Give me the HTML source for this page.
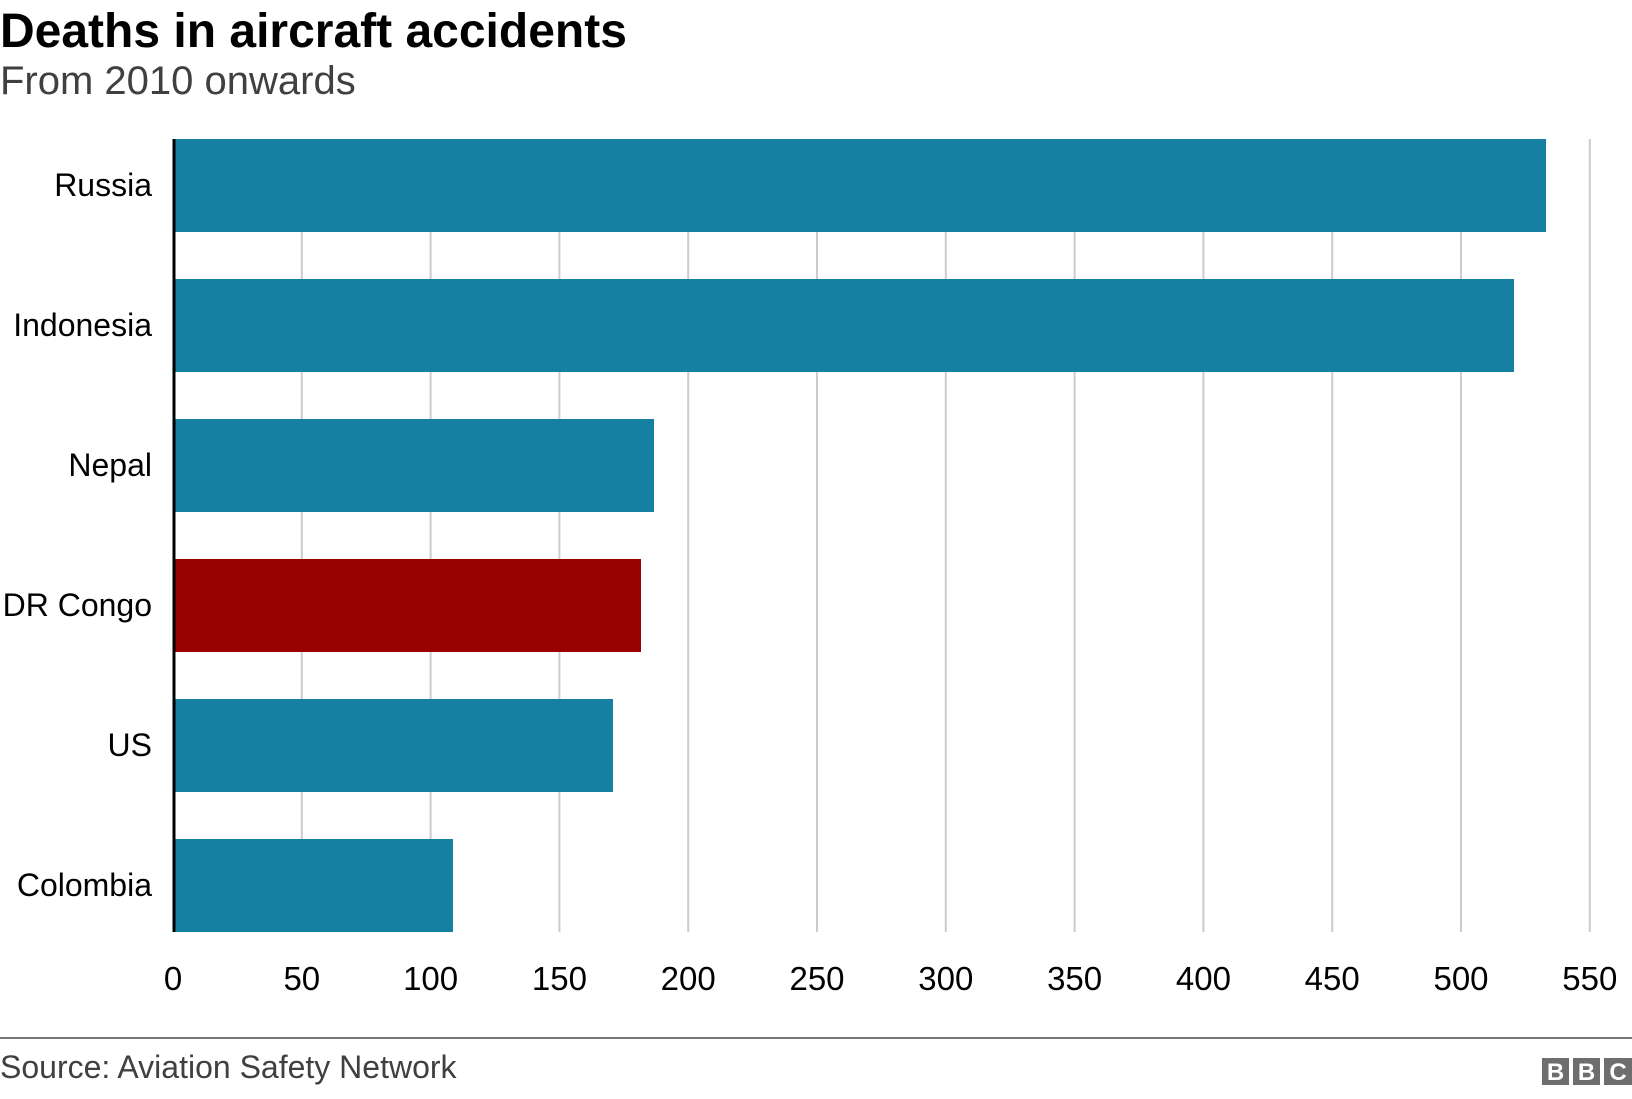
<!DOCTYPE html>
<html><head><style>
body{margin:0;width:1632px;height:1094px;background:#fff;overflow:hidden;font-family:"Liberation Sans",Arial,sans-serif}
</style></head><body>
<svg width="1632" height="1094" xmlns="http://www.w3.org/2000/svg" font-family="Liberation Sans, Arial, sans-serif">
<text x="0" y="47" font-size="48" font-weight="bold" fill="#000">Deaths in aircraft accidents</text>
<text x="0" y="94" font-size="40" fill="#404040">From 2010 onwards</text>
<g stroke="#cccccc" stroke-width="2">
<line x1="301.8" y1="139" x2="301.8" y2="932"/><line x1="430.6" y1="139" x2="430.6" y2="932"/><line x1="559.4" y1="139" x2="559.4" y2="932"/><line x1="688.2" y1="139" x2="688.2" y2="932"/><line x1="817" y1="139" x2="817" y2="932"/><line x1="945.8" y1="139" x2="945.8" y2="932"/><line x1="1074.6" y1="139" x2="1074.6" y2="932"/><line x1="1203.4" y1="139" x2="1203.4" y2="932"/><line x1="1332.2" y1="139" x2="1332.2" y2="932"/><line x1="1461" y1="139" x2="1461" y2="932"/><line x1="1589.8" y1="139" x2="1589.8" y2="932"/>
</g>
<g fill="#1580a2">
<rect x="173" y="139" width="1373" height="93"/>
<rect x="173" y="279" width="1341" height="93"/>
<rect x="173" y="419" width="481" height="93"/>
<rect x="173" y="699" width="440" height="93"/>
<rect x="173" y="839" width="280" height="93"/>
</g>
<rect x="173" y="559" width="468" height="93" fill="#990000"/>
<line x1="174" y1="139" x2="174" y2="932" stroke="#000" stroke-width="3"/>
<g font-size="32" fill="#000" text-anchor="end">
<text x="152" y="196">Russia</text>
<text x="152" y="336">Indonesia</text>
<text x="152" y="476">Nepal</text>
<text x="152" y="616">DR Congo</text>
<text x="152" y="756">US</text>
<text x="152" y="896">Colombia</text>
</g>
<g font-size="33" fill="#000" text-anchor="middle">
<text x="173" y="990">0</text><text x="301.8" y="990">50</text><text x="430.6" y="990">100</text><text x="559.4" y="990">150</text><text x="688.2" y="990">200</text><text x="817" y="990">250</text><text x="945.8" y="990">300</text><text x="1074.6" y="990">350</text><text x="1203.4" y="990">400</text><text x="1332.2" y="990">450</text><text x="1461" y="990">500</text><text x="1589.8" y="990">550</text>
</g>
<line x1="0" y1="1038" x2="1632" y2="1038" stroke="#777" stroke-width="2"/>
<text x="0" y="1078" font-size="32" fill="#404040">Source: Aviation Safety Network</text>
<g fill="#6e6e6e"><rect x="1542" y="1058" width="27" height="27"/><rect x="1573" y="1058" width="27" height="27"/><rect x="1604" y="1058" width="28" height="27"/></g>
<g fill="#fff" font-size="24" font-weight="bold" text-anchor="middle"><text x="1555.5" y="1080">B</text><text x="1586.5" y="1080">B</text><text x="1618" y="1080">C</text></g>
</svg>
</body></html>
